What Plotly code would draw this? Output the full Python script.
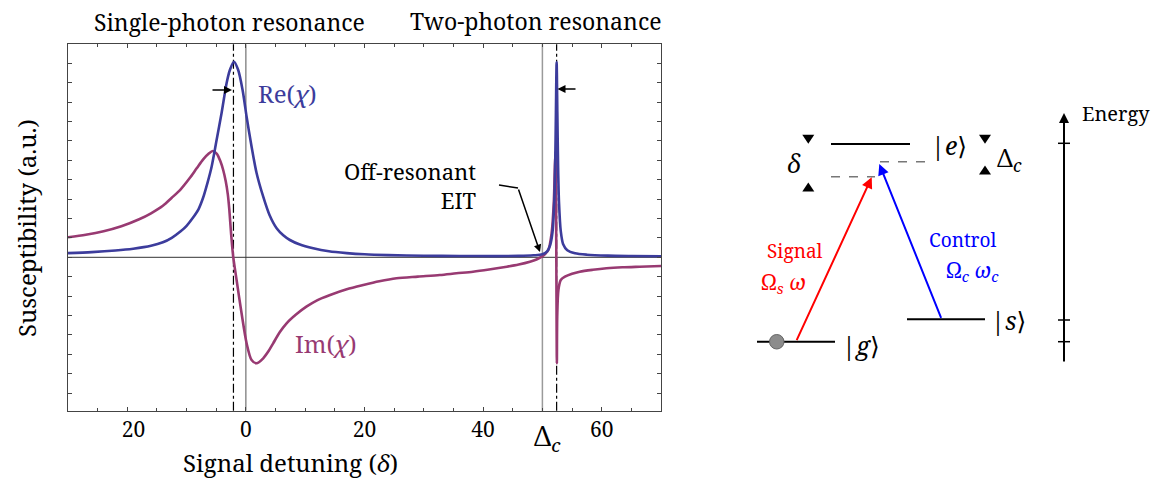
import plotly.graph_objects as go

# ---------------- data ----------------
re_x = [-30, -26, -22, -19, -16, -14, -12.5, -11, -10, -9, -8, -7.25, -6.5, -5.78, -4.94, -4.10,
        -3.25, -2.70, -2.02, -1.30, -0.56, 0.12, 0.96, 1.80, 2.92, 4.0, 5.18, 6.3, 7.42, 9,
        11.35, 14, 17, 20, 24, 30, 36, 42, 46, 48.5, 50, 50.8, 51.3, 51.7, 52.0, 52.15, 52.28,
        52.4, 52.52, 52.65, 52.8, 53.1, 53.5, 54.2, 55.5, 57.5, 61, 65, 70]
re_y = [0.42, 0.52, 0.68, 0.86, 1.15, 1.5, 1.95, 2.6, 3.15, 3.9, 4.8, 5.9, 7.4, 9.06, 11.73, 14.43,
        17.43, 18.73, 19.56, 18.73, 16.73, 14.06, 11.06, 8.43, 6.06, 4.2, 2.9, 2.2, 1.73, 1.3,
        0.9, 0.6, 0.42, 0.3, 0.22, 0.16, 0.13, 0.12, 0.14, 0.2, 0.3, 0.6, 1.2, 2.5, 5.5, 9.0, 14.5,
        19.5, 14.5, 9.0, 5.5, 2.6, 1.3, 0.7, 0.4, 0.26, 0.17, 0.13, 0.1]

im_x = [-30, -27, -24, -21, -18, -16, -14, -12.5, -11, -9.5, -8.3, -7.2, -6.3, -5.6, -4.9, -4.3,
        -3.83, -3.4, -3.05, -2.8, -2.5, -2.14, -1.57, -0.73, 0.12, 0.96, 1.8, 2.92, 3.8, 4.6,
        5.7, 6.86, 8.5, 10.2, 12, 14.2, 17, 19.8, 22.5, 25.4, 29, 32.7, 35.5, 38.3, 41, 44, 46,
        47.9, 49, 49.9, 50.5, 51.0, 51.55, 51.94, 52.1, 52.22, 52.3, 52.36, 52.44, 52.5, 52.7,
        53.1, 53.8, 55, 56.3, 58.5, 60.8, 63.5, 66.4, 70]
im_y = [2.0, 2.25, 2.6, 3.1, 3.8, 4.4, 5.15, 5.95, 6.8, 7.9, 8.9, 9.8, 10.35, 10.63, 10.35, 9.6,
        8.73, 7.6, 6.3, 4.8, 2.4, 0.06, -2.27, -5.6, -8.6, -10.27, -10.6, -10.1, -9.4, -8.6,
        -7.5, -6.6, -5.7, -4.94, -4.3, -3.77, -3.2, -2.77, -2.4, -2.1, -1.93, -1.77, -1.6, -1.44, -1.22, -0.94, -0.72,
        -0.44, -0.22, 0.06, 0.35, 0.73, 2.4, 5.73, 9.06, 10.6, 6.0, -2.0, -10.6, -5.94, -3.27,
        -2.27, -1.94, -1.65, -1.44, -1.25, -1.1, -1.0, -0.94, -0.87]

x_ticks = [-20, 0, 20, 40, 60]
x_ticktext = ["<span style='color:rgba(0,0,0,0)'>\u2212</span>20", "0", "20", "40", "60"]
delta_c = 50
single_res = -2.1
two_res = 52.4

# ---------------- figure geometry ----------------
W, H = 1157, 479
L, R, T, B = 68, 661, 44.3, 410.7   # plot area in pixels
Y0 = 257.3                           # pixel row of zero
YS = 10.0                            # pixels per y unit

def P(px):
    return px / W

def Q(py):
    return 1 - py / H

SERIF = "Noto Serif, DejaVu Serif"
BLUE = "#3c3c9c"
MAG = "#983a72"

fig = go.Figure()
fig.add_trace(go.Scatter(x=im_x, y=im_y, mode="lines", line=dict(color=MAG, width=2.6, shape="spline", smoothing=0.8),
                         showlegend=False, hoverinfo="skip"))
fig.add_trace(go.Scatter(x=re_x, y=re_y, mode="lines", line=dict(color=BLUE, width=2.6, shape="spline", smoothing=0.8),
                         showlegend=False, hoverinfo="skip"))

fig.update_layout(
    width=W, height=H, margin=dict(l=0, r=0, t=0, b=0),
    paper_bgcolor="white", plot_bgcolor="white",
    font=dict(family=SERIF, color="black"),
    xaxis=dict(domain=[P(L), P(R)], range=[-30, 70], showgrid=False, zeroline=False,
               showline=True, linecolor="#444", linewidth=1, mirror="ticks",
               ticks="inside", ticklen=4, tickcolor="#444", tickvals=x_ticks, ticktext=x_ticktext,
               tickfont=dict(family=SERIF, size=21, color="black"),
               minor=dict(dtick=5, tick0=0, ticks="inside", ticklen=2.5, tickcolor="#444")),
    yaxis=dict(domain=[Q(B), Q(T)], range=[(Y0 - B) / YS, (Y0 - T) / YS], showgrid=False, zeroline=False,
               showline=True, linecolor="#444", linewidth=1, mirror="ticks",
               ticks="inside", ticklen=4, tickcolor="#444", tick0=0, dtick=1.94,
               showticklabels=False),
)

# reference lines
fig.add_shape(type="line", xref="x", yref="y", x0=-30, x1=70, y0=0, y1=0, line=dict(color="#333", width=1), layer="below")
fig.add_shape(type="line", xref="x", yref="paper", x0=0, x1=0, y0=Q(B), y1=Q(T), line=dict(color="#555", width=1), layer="below")
fig.add_shape(type="line", xref="x", yref="paper", x0=delta_c, x1=delta_c, y0=Q(B), y1=Q(T), line=dict(color="#9a9a9a", width=1.5), layer="below")
for xv in (single_res, two_res):
    fig.add_shape(type="line", xref="x", yref="paper", x0=xv, x1=xv, y0=Q(B), y1=Q(T),
                  line=dict(color="black", width=1.2, dash="dashdot"), layer="below")

def text(px, py, s, size, color="black", xanchor="center", yanchor="middle", align="center", angle=0, fam=SERIF):
    fig.add_annotation(x=P(px), y=Q(py), xref="paper", yref="paper", text=s, showarrow=False,
                       font=dict(family=fam, size=size, color=color), xanchor=xanchor, yanchor=yanchor,
                       align=align, textangle=angle)

def arrow(hx, hy, tx, ty, color="black", width=1.5, size=1.0, head=2):
    fig.add_annotation(x=P(hx), y=Q(hy), xref="paper", yref="paper", text="", showarrow=True,
                       ax=tx - hx, ay=ty - hy, axref="pixel", ayref="pixel",
                       arrowhead=head, arrowsize=size, arrowwidth=width, arrowcolor=color, standoff=0)

def seg(x0, y0, x1, y1, color="black", width=2, dash="solid"):
    fig.add_shape(type="line", xref="paper", yref="paper", x0=P(x0), y0=Q(y0), x1=P(x1), y1=Q(y1),
                  line=dict(color=color, width=width, dash=dash))

def tri(cx, cy, down=True, w=12, h=9):
    if down:
        pts = [(cx - w / 2, cy - h / 2), (cx + w / 2, cy - h / 2), (cx, cy + h / 2)]
    else:
        pts = [(cx - w / 2, cy + h / 2), (cx + w / 2, cy + h / 2), (cx, cy - h / 2)]
    path = "M " + " L ".join(f"{P(a):.5f},{Q(b):.5f}" for a, b in pts) + " Z"
    fig.add_shape(type="path", xref="paper", yref="paper", path=path, fillcolor="black", line=dict(color="black", width=0))

# chart texts
text(229, 22, "Single-photon resonance", 23)
text(536, 21, "Two-photon resonance", 23)
text(290, 462, "Signal detuning (<i>\u03b4</i>)", 24)
text(27, 228, "Susceptibility (a.u.)", 24, angle=-90)
text(256, 93, "Re(<i>\u03c7</i>)", 24, color=BLUE, xanchor="left")
text(293, 343, "Im(<i>\u03c7</i>)", 24, color=MAG, xanchor="left")
text(478, 185, "Off-resonant<br>EIT", 22, xanchor="right", align="right")
fig.add_annotation(x=delta_c, y=Q(437), xref="x", yref="paper", text="\u0394<sub><i>c</i></sub>", showarrow=False,
                   font=dict(family=SERIF, size=27), xanchor="center", yanchor="middle", xshift=5)

arrow(232, 90, 211, 90, width=1.6, size=1.0)
arrow(557.5, 89, 577, 89, width=1.6, size=1.0)
seg(499, 185, 518, 188, width=1.5)
arrow(540, 252, 518, 188, width=1.5, size=1.0)

# ---------------- energy level diagram ----------------
seg(831, 144, 910, 144, width=2)
seg(831, 176.7, 875, 176.7, color="#777", width=1.5, dash="dash")
seg(880, 161.7, 927, 161.7, color="#777", width=1.5, dash="dash")
seg(757, 341.7, 835, 341.7, width=2)
seg(907, 319.3, 985, 319.3, width=2)
for ty in (143.3, 320, 341.7):
    seg(1058, ty, 1070, ty, width=1.5)
arrow(1064, 113, 1064, 363, width=2, size=1.0)
tri(808.3, 139.3, True)
tri(808.3, 187, False)
tri(985, 139.3, True)
tri(985, 170, False)
arrow(871.7, 177.3, 796, 341.7, color="#ff0000", width=2, size=1.1)
arrow(879.3, 164, 941.7, 319.3, color="#0000ff", width=2, size=1.1)
fig.add_shape(type="circle", xref="paper", yref="paper", x0=P(769.5), x1=P(784), y0=Q(349), y1=Q(334.5),
              fillcolor="#8c8c8c", line=dict(color="#666", width=1))

text(794, 163, "<i>\u03b4</i>", 25)
text(949, 145, "|<i>e</i>\u27e9", 25)
text(995, 158, "\u0394<sub><i>c</i></sub>", 25, xanchor="left")
text(860.5, 345, "|<i>g</i>\u27e9", 25)
text(1008, 320, "|<i>s</i>\u27e9", 25)
text(794.7, 251, "Signal", 19, color="#ff0000")
text(783, 283, "\u03a9<sub><i>s</i></sub> <i>\u03c9</i>", 21, color="#ff0000")
text(962, 240, "Control", 19, color="#0000ff")
text(972, 271, "\u03a9<sub><i>c</i></sub> <i>\u03c9<sub>c</sub></i>", 21, color="#0000ff")
text(1080, 113, "Energy", 20, xanchor="left")

fig.write_html("out.html")
